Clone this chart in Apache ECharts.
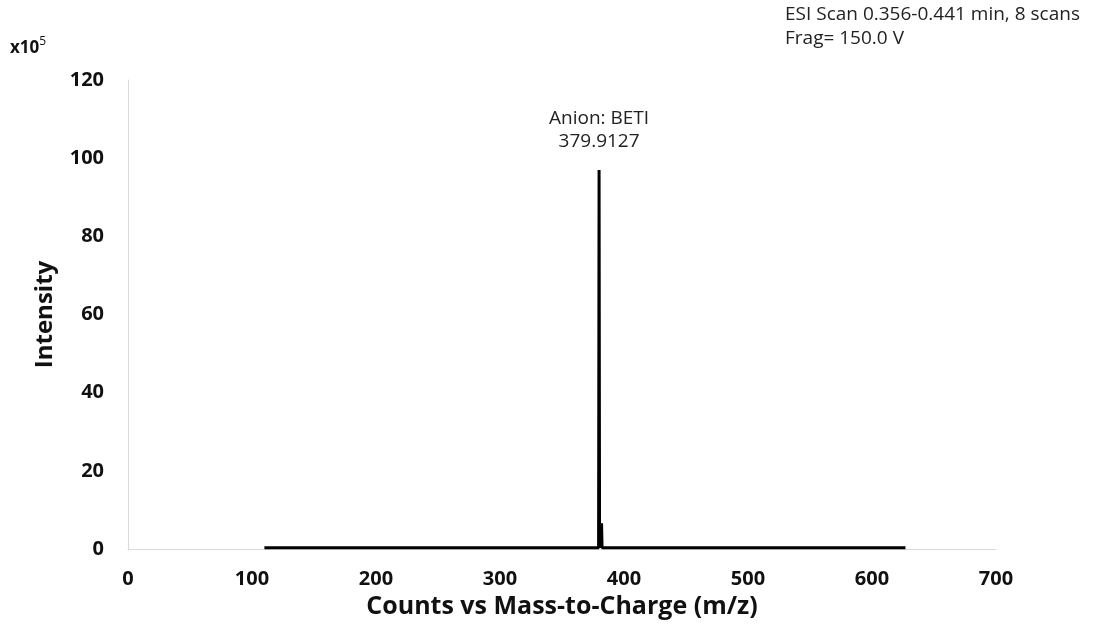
<!DOCTYPE html>
<html>
<head>
<meta charset="utf-8">
<script src="https://cdn.jsdelivr.net/npm/echarts@6/dist/echarts.min.js"></script>
<style>
  html, body { margin: 0; padding: 0; background: #fff; }
  #chart { width: 1095px; height: 635px; }
</style>
</head>
<body>
<div id="chart"></div>
<script>
// spectrum points: m/z and intensity (x10^5)
const mzValues = [110, 147, 148, 149, 196, 197, 198, 379.5, 379.9, 380.3, 381.5, 381.9, 382.3, 627];
const intensityValues = [0.3, 0.3, 0.6, 0.3, 0.3, 0.5, 0.3, 0.3, 97, 0.3, 0.3, 6.6, 0.3, 0.3];
const peakLabel = ['Anion: BETI', '379.9127'];
const scanInfo = ['ESI Scan 0.356-0.441 min, 8 scans', 'Frag= 150.0 V'];
const xTicks = [0, 100, 200, 300, 400, 500, 600, 700];
const yTicks = [0, 20, 40, 60, 80, 100, 120];

const font = '"Open Sans", "Liberation Sans", sans-serif';

const chart = echarts.init(document.getElementById('chart'))
const option = {
  animation: false,
  backgroundColor: '#fff',
  grid: { left: 128, right: 99, top: 80, bottom: 86 },
  xAxis: {
    type: 'value',
    min: xTicks[0],
    max: xTicks[xTicks.length - 1],
    interval: 100,
    name: 'Counts vs Mass-to-Charge (m/z)',
    nameLocation: 'middle',
    nameGap: 34,
    nameTextStyle: { color: '#111', fontFamily: font, fontSize: 25, fontWeight: 'bold' },
    axisLine: { lineStyle: { color: '#d9d9d9', width: 1 } },
    axisTick: { show: false },
    splitLine: { show: false },
    axisLabel: { color: '#111', fontFamily: font, fontSize: 20, fontWeight: 'bold', margin: 20 }
  },
  yAxis: {
    type: 'value',
    min: yTicks[0],
    max: yTicks[yTicks.length - 1],
    interval: 20,
    name: 'Intensity',
    nameLocation: 'middle',
    nameGap: 71,
    nameTextStyle: { color: '#111', fontFamily: font, fontSize: 24, fontWeight: 'bold' },
    axisLine: { show: true, lineStyle: { color: '#d9d9d9', width: 1 } },
    axisTick: { show: false },
    splitLine: { show: false },
    axisLabel: { color: '#111', fontFamily: font, fontSize: 20, fontWeight: 'bold', margin: 24 }
  },
  graphic: [
    {
      type: 'text',
      left: 10,
      top: 36,
      style: {
        text: '{b|x10}{s|5}',
        rich: {
          b: { fontFamily: font, fontSize: 17, fontWeight: 'bold', fill: '#111', verticalAlign: 'bottom' },
          s: { fontFamily: font, fontSize: 12, fill: '#111', padding: [0, 0, 9, 0] }
        }
      }
    },
    {
      type: 'text',
      left: 785,
      top: 3,
      style: {
        text: scanInfo.join('\n'),
        fontFamily: font,
        fontSize: 19,
        lineHeight: 24,
        fill: '#222'
      }
    }
  ],
  series: [{
    type: 'line',
    data: mzValues.map((mz, i) => [mz, intensityValues[i]]),
    showSymbol: false,
    symbol: 'none',
    lineStyle: { color: '#000', width: 3 },
    z: 5,
    markPoint: {
      symbol: 'circle',
      symbolSize: 0,
      data: [{ type: 'max' }],
      label: {
        show: true,
        position: 'top',
        distance: 17,
        formatter: peakLabel.join('\n'),
        color: '#222',
        fontFamily: font,
        fontSize: 19,
        lineHeight: 23
      }
    }
  }]
}
chart.setOption(option)
</script>
</body>
</html>
